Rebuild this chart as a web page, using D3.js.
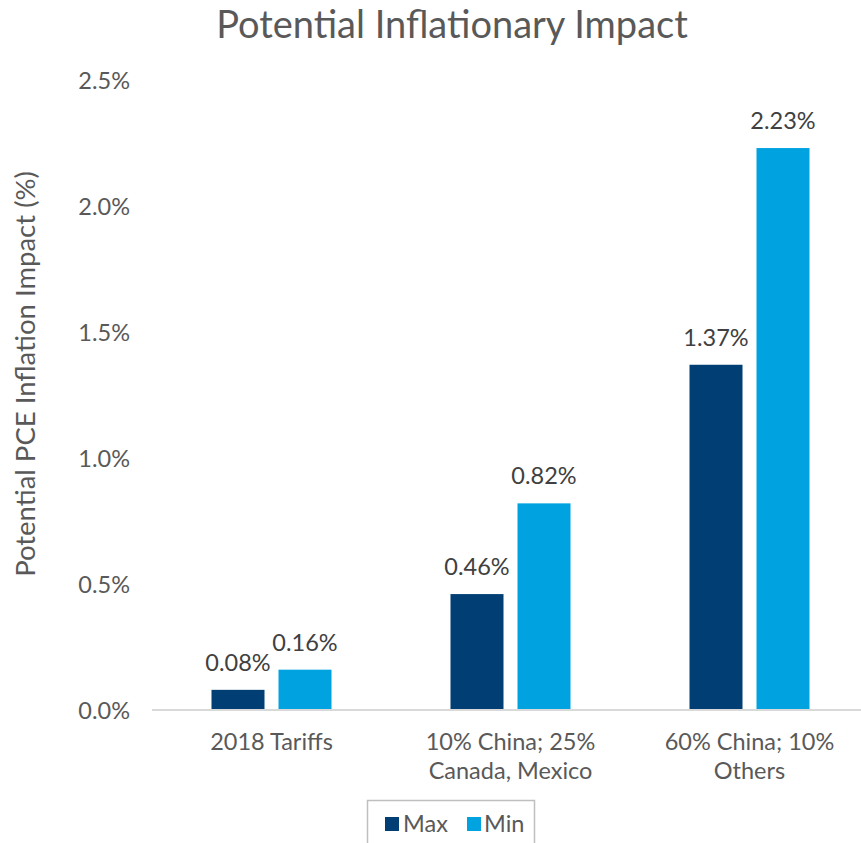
<!DOCTYPE html>
<html>
<head>
<meta charset="utf-8">
<script src="https://cdn.jsdelivr.net/npm/d3@7"></script>
<style>
  html, body { margin: 0; padding: 0; background: #fff; }
  svg { display: block; font-family: Lato, "Open Sans", sans-serif; }
</style>
</head>
<body>
<svg id="chart" width="861" height="843"></svg>
<script>
// Scenario categories (each may wrap onto two lines)
const categories = [
  ["2018 Tariffs"],
  ["10% China; 25%", "Canada, Mexico"],
  ["60% China; 10%", "Others"]
];
const seriesNames = ["Max", "Min"];
const maxValues = [0.08, 0.46, 1.37];
const minValues = [0.16, 0.82, 2.23];
const yTicks = [0, 0.5, 1.0, 1.5, 2.0, 2.5];
const colors = { Max: "#003e74", Min: "#00a3e0" };

const svg = d3.select("#chart");
const W = 861, H = 843;
const margin = { left: 152, right: -8, top: 80, bottom: 133 };

const x0 = d3.scaleBand()
  .domain(d3.range(categories.length))
  .range([margin.left, W - margin.right])
  .paddingInner(0)
  .paddingOuter(0);

const x1 = d3.scaleBand()
  .domain(seriesNames)
  .range([0, x0.bandwidth()])
  .paddingInner(0.209)
  .paddingOuter(0.888);

const y = d3.scaleLinear().domain([0, 2.5]).range([H - margin.bottom, margin.top]);

// Title
svg.append("text")
  .attr("x", 452).attr("y", 38)
  .attr("text-anchor", "middle")
  .attr("fill", "#595959")
  .attr("font-size", 38)
  .text("Potential Inflationary Impact");

// Y axis tick labels (no axis line)
const yAxis = d3.axisLeft(y).tickValues(yTicks).tickSize(0).tickPadding(0)
  .tickFormat(d => d.toFixed(1) + "%");
const gy = svg.append("g").attr("transform", `translate(130,0)`).call(yAxis);
gy.select(".domain").remove();
gy.selectAll("text").attr("fill", "#595959").attr("font-size", 23.5)
  .attr("font-family", "Lato, sans-serif").attr("dy", "0.36em");

// Y axis title
svg.append("text")
  .attr("transform", `translate(35,374) rotate(-90)`)
  .attr("text-anchor", "middle")
  .attr("fill", "#595959")
  .attr("font-size", 27.5)
  .text("Potential PCE Inflation Impact (%)");

// Bars
const rows = categories.map((c, i) => ({ i, values: [
  { key: "Max", v: maxValues[i] },
  { key: "Min", v: minValues[i] }
]}));

const groups = svg.append("g").selectAll("g").data(rows).join("g")
  .attr("transform", d => `translate(${x0(d.i)},0)`);

groups.selectAll("rect").data(d => d.values).join("rect")
  .attr("x", d => x1(d.key))
  .attr("width", x1.bandwidth())
  .attr("y", d => y(d.v))
  .attr("height", d => y(0) - y(d.v))
  .attr("fill", d => colors[d.key]);

groups.selectAll("text.val").data(d => d.values).join("text")
  .attr("class", "val")
  .attr("x", d => x1(d.key) + x1.bandwidth() / 2)
  .attr("y", d => y(d.v) - 19)
  .attr("text-anchor", "middle")
  .attr("fill", "#404040")
  .attr("font-size", 23.5)
  .text(d => d.v.toFixed(2) + "%");

// X axis baseline
svg.append("line")
  .attr("x1", margin.left).attr("x2", W)
  .attr("y1", y(0)).attr("y2", y(0))
  .attr("stroke", "#d9d9d9").attr("stroke-width", 2);

// Category labels
const xl = svg.append("g").selectAll("text").data(categories).join("text")
  .attr("x", (d, i) => x0(i) + x0.bandwidth() / 2)
  .attr("y", 750)
  .attr("text-anchor", "middle")
  .attr("fill", "#595959")
  .attr("font-size", 23.5);
xl.selectAll("tspan").data(d => d).join("tspan")
  .attr("x", function() { return d3.select(this.parentNode).attr("x"); })
  .attr("dy", (d, j) => j === 0 ? 0 : 28.5)
  .text(d => d);

// Legend
const lg = svg.append("g");
lg.append("rect")
  .attr("x", 367.5).attr("y", 800.5).attr("width", 167).attr("height", 60)
  .attr("fill", "none").attr("stroke", "#bfbfbf").attr("stroke-width", 1.5);
const legendItems = [
  { key: "Max", sx: 385, tx: 403 },
  { key: "Min", sx: 467, tx: 484 }
];
legendItems.forEach(it => {
  lg.append("rect").attr("x", it.sx).attr("y", 817).attr("width", 14).attr("height", 14)
    .attr("fill", colors[it.key]);
  lg.append("text").attr("x", it.tx).attr("y", 832)
    .attr("fill", "#595959").attr("font-size", 23.5).text(it.key);
});
</script>
</body>
</html>
